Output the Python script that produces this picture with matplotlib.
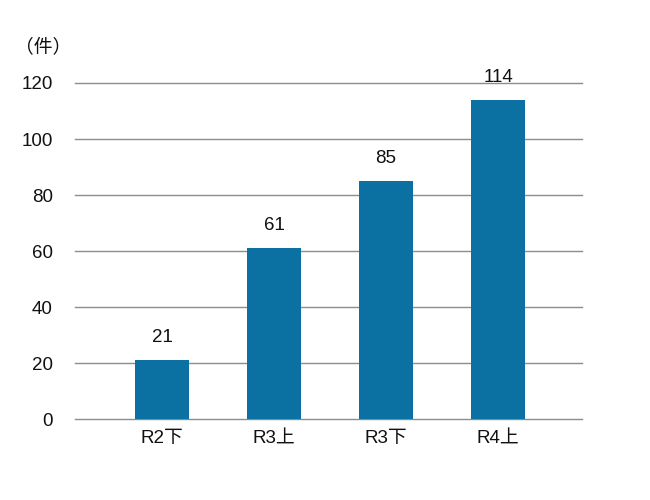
import matplotlib
matplotlib.use("Agg")
import matplotlib.pyplot as plt

plt.rcParams['font.family'] = ['Liberation Sans', 'Noto Sans CJK JP']

# data
categories = ['R2下', 'R3上', 'R3下', 'R4上']
counts = [21, 61, 85, 114]
yticks = [0, 20, 40, 60, 80, 100, 120]

bar_color = '#0b71a3'

fig = plt.figure(figsize=(6.5, 5), dpi=100)
ax = fig.add_axes([0.1154, 0.162, 0.78, 0.672])

x = list(range(len(categories)))
bars = ax.bar(x, counts, width=0.49, color=bar_color, zorder=3)

# value labels above bars
for xi, v in zip(x, counts):
    ax.annotate(str(v), (xi, v), xytext=(0, 10), textcoords='offset points',
                ha='center', va='bottom', fontsize=13.5, color='#111111')

ax.set_xlim(-0.777, 3.75)
ax.set_ylim(0, 120)
ax.set_yticks(yticks)
ax.set_xticks(x)
ax.set_xticklabels(categories)

# gridlines (drawn as lines so the one at 0 is not clipped)
for t in yticks:
    ax.axhline(t, color='#8c8c8c', linewidth=1.0, zorder=0, clip_on=False)
for s in ax.spines.values():
    s.set_visible(False)
ax.tick_params(axis='both', length=0, labelsize=13.5, colors='#111111')
ax.tick_params(axis='y', pad=16)
ax.tick_params(axis='x', pad=8)

fig.text(15 / 650, 1 - 47 / 500, '（件）', fontsize=13.5, ha='left', va='center',
         color='#111111')

fig.savefig('out.png', dpi=100)
